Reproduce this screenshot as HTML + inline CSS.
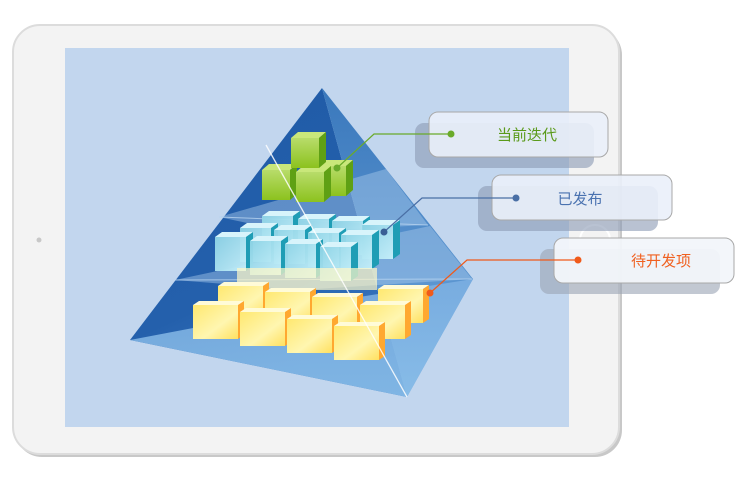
<!DOCTYPE html>
<html><head><meta charset="utf-8"><style>
body{margin:0;width:735px;height:486px;background:#fff;overflow:hidden;font-family:"Liberation Sans","Noto Sans CJK SC",sans-serif}
</style></head><body>
<svg width="735" height="486" viewBox="0 0 735 486" xmlns="http://www.w3.org/2000/svg">
<defs>
<linearGradient id="lf" x1="0" y1="0" x2="0.4" y2="1"><stop offset="0" stop-color="#1f5aa6"/><stop offset="0.7" stop-color="#2460ac"/><stop offset="1" stop-color="#3a78c0"/></linearGradient>
<linearGradient id="rf" x1="0" y1="0" x2="0" y2="1"><stop offset="0" stop-color="#3a78bc"/><stop offset="1" stop-color="#6ea6dc"/></linearGradient>
<linearGradient id="bf" x1="0" y1="0" x2="0" y2="1"><stop offset="0" stop-color="#7db0e2"/><stop offset="1" stop-color="#8cc0ea"/></linearGradient>
<linearGradient id="gF" x1="0" y1="0" x2="0" y2="1"><stop offset="0" stop-color="#b8dc6a"/><stop offset="1" stop-color="#8cc21e"/></linearGradient>
<linearGradient id="cF" x1="0" y1="0" x2="1" y2="1"><stop offset="0" stop-color="#8fd4e6"/><stop offset="1" stop-color="#c6f0fa"/></linearGradient>
<linearGradient id="yF" x1="0" y1="0" x2="1" y2="1"><stop offset="0" stop-color="#ffe870"/><stop offset="0.6" stop-color="#fff6b0"/><stop offset="1" stop-color="#ffe060"/></linearGradient>
<g id="gc"><rect x="0" y="0" width="28" height="30" fill="url(#gF)"/><polygon points="0,0 7,-6 35,-6 28,0" fill="#c9e77a"/><polygon points="28,0 35,-6 35,24 28,30" fill="#5fa014"/></g>
<g id="cc"><rect x="0" y="0" width="31" height="34" fill="url(#cF)" opacity="0.95"/><polygon points="0,0 7,-5 38,-5 31,0" fill="#d8f4fb"/><polygon points="31,0 38,-5 38,29 31,34" fill="#1f9db5"/></g>
<g id="yc"><rect x="0" y="0" width="45" height="34" fill="url(#yF)"/><polygon points="0,0 6,-4 51,-4 45,0" fill="#fffbd8"/><polygon points="45,0 51,-4 51,30 45,34" fill="#ffa830"/></g>
</defs>
<rect x="15" y="28" width="607" height="429" rx="27" fill="#c8c8c8"/>
<rect x="13" y="25" width="606" height="429" rx="27" fill="#f3f3f3" stroke="#dcdcdc" stroke-width="2"/>
<rect x="65" y="48" width="504" height="379" fill="#c2d6ee"/>
<circle cx="39" cy="240" r="2.5" fill="#c8c8c8"/>
<!-- pyramid -->
<polygon points="322,88 130,340 407,397" fill="url(#lf)"/>
<polygon points="322,88 407,397 473,279" fill="url(#rf)"/>
<polygon points="130,340 407,397 473,279 340,300" fill="url(#bf)" opacity="0.85"/>
<!-- slice planes -->
<polygon points="219,217 386,169 428,225 290,232" fill="#a9caec" opacity="0.45"/>
<polygon points="175,280 430,226 472,279 300,290" fill="#a9caec" opacity="0.45"/>
<line x1="219" y1="217" x2="428" y2="225" stroke="#b8d4f0" stroke-width="1" opacity="0.8"/>
<line x1="175" y1="280" x2="472" y2="279" stroke="#b8d4f0" stroke-width="1" opacity="0.8"/>
<use href="#gc" x="318" y="166"/>
<use href="#gc" x="262" y="170"/>
<use href="#gc" x="296" y="172"/>
<use href="#gc" x="291" y="138"/>
<use href="#cc" x="262" y="216"/><use href="#cc" x="298" y="219"/><use href="#cc" x="332" y="221"/><use href="#cc" x="362" y="225"/>
<use href="#cc" x="240" y="228"/><use href="#cc" x="274" y="230"/><use href="#cc" x="308" y="233"/><use href="#cc" x="341" y="235"/>
<use href="#cc" x="215" y="237"/><use href="#cc" x="250" y="241"/><use href="#cc" x="285" y="244"/><use href="#cc" x="320" y="247"/>
<rect x="237" y="268" width="140" height="22" fill="#fff8c8" opacity="0.7"/>
<use href="#yc" x="378" y="289"/>
<use href="#yc" x="218" y="286"/><use href="#yc" x="265" y="292"/><use href="#yc" x="312" y="297"/><use href="#yc" x="360" y="305"/>
<use href="#yc" x="193" y="305"/><use href="#yc" x="240" y="312"/><use href="#yc" x="287" y="319"/><use href="#yc" x="334" y="326"/>
<line x1="266" y1="145" x2="407" y2="397" stroke="#fff" stroke-width="1.3" opacity="0.85"/>
<circle cx="595" cy="240" r="15" fill="none" stroke="#fff" stroke-width="2"/>
<g>
<rect x="415" y="123" width="179" height="45" rx="9" fill="#8a9ab4" opacity="0.6"/>
<rect x="429" y="112" width="179" height="45" rx="9" fill="#eaf0f9" fill-opacity="0.9" stroke="#a8a8a8"/>
<polyline points="451,134 374,134 337,168" fill="none" stroke="#6aaa2a" stroke-width="1.2"/>
<circle cx="451" cy="134" r="3.5" fill="#6aaa2a"/><circle cx="337" cy="168" r="3.5" fill="#6aaa2a"/>
<text x="527" y="140" font-size="15" fill="#5a9a1a" text-anchor="middle">当前迭代</text>
</g>
<g>
<rect x="478" y="186" width="180" height="45" rx="9" fill="#8a9ab4" opacity="0.6"/>
<rect x="492" y="175" width="180" height="45" rx="9" fill="#eaf0f9" fill-opacity="0.9" stroke="#a8a8a8"/>
<polyline points="516,198 422,198 384,232" fill="none" stroke="#4a6fa5" stroke-width="1.2"/>
<circle cx="516" cy="198" r="3.5" fill="#4a6fa5"/><circle cx="384" cy="232" r="3.5" fill="#3a5f95"/>
<text x="580" y="204" font-size="15" fill="#4a72b0" text-anchor="middle">已发布</text>
</g>
<g>
<rect x="540" y="249" width="180" height="45" rx="9" fill="#9aa4b4" opacity="0.6"/>
<rect x="554" y="238" width="180" height="45" rx="9" fill="#f2f5fa" fill-opacity="0.95" stroke="#a8a8a8"/>
<polyline points="578,260 467,260 430,293" fill="none" stroke="#f05a1a" stroke-width="1.2"/>
<circle cx="578" cy="260" r="3.5" fill="#f05a1a"/><circle cx="430" cy="293" r="3.5" fill="#f05a1a"/>
<text x="661" y="266" font-size="15" fill="#f06020" text-anchor="middle">待开发项</text>
</g>
</svg>
</body></html>
